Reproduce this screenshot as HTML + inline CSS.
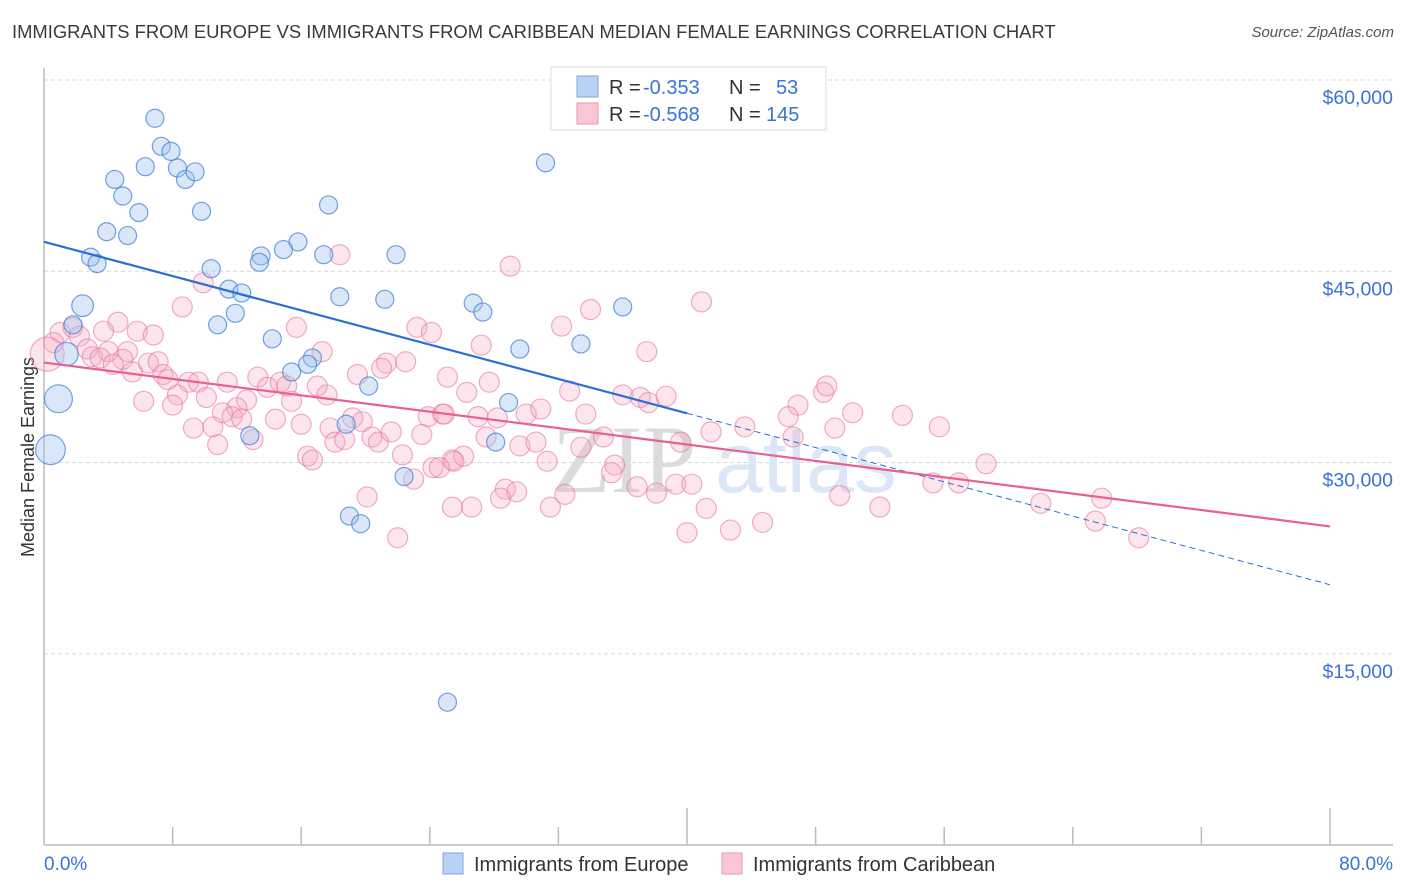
<!DOCTYPE html>
<html><head><meta charset="utf-8">
<style>
html,body{margin:0;padding:0;background:#fff;}
body{width:1406px;height:892px;overflow:hidden;position:relative;font-family:"Liberation Sans",sans-serif;}
#title{position:absolute;left:12px;top:21px;font-size:18.4px;color:#3a3a3a;}
#source{position:absolute;right:12px;top:24px;font-size:15px;color:#555;font-style:italic;}
svg{position:absolute;left:0;top:0;}
</style></head>
<body>
<div id="title">IMMIGRANTS FROM EUROPE VS IMMIGRANTS FROM CARIBBEAN MEDIAN FEMALE EARNINGS CORRELATION CHART</div>
<div id="source">Source: ZipAtlas.com</div>
<svg id="chart" width="1406" height="892"></svg>
<script>
const yTicks = [15000, 30000, 45000, 60000];
const yTickLabels = ["$15,000", "$30,000", "$45,000", "$60,000"];
const xTickValues = [0, 8, 16, 24, 32, 40, 48, 56, 64, 72, 80];
const europeX = [6.9,7.3,7.9,6.3,8.3,8.8,9.4,4.4,4.9,5.9,3.9,5.2,9.8,2.9,3.3,10.4,11.5,12.3,11.9,10.8,2.4,1.8,1.4,0.9,0.4,15.8,14.9,13.5,13.4,17.4,17.7,21.9,18.4,21.2,26.7,27.3,31.2,36.0,33.4,29.6,14.2,16.7,15.4,16.4,20.2,28.9,28.1,12.8,18.8,22.4,19.0,19.7,25.1];
const europeY = [57.0,54.8,54.4,53.2,53.1,52.2,52.8,52.2,50.9,49.6,48.1,47.8,49.7,46.1,45.6,45.2,43.6,43.3,41.7,40.8,42.3,40.8,38.5,35.0,31.0,47.3,46.7,46.2,45.7,46.3,50.2,46.3,43.0,42.8,42.5,41.8,53.5,42.2,39.3,38.9,39.7,38.2,37.1,37.7,36.0,34.7,31.6,32.1,33.0,28.9,25.8,25.2,11.2];
const europeSize = [1,1,1,1,1,1,1,1,1,1,1,1,1,1,1,1,1,1,1,1,1.2,1,1.3,1.55,1.65,1,1,1,1,1,1,1,1,1,1,1,1,1,1,1,1,1,1,1,1,1,1,1,1,1,1,1,1];
const caribX = [18.4,9.9,8.6,4.6,3.7,5.8,6.8,1.0,1.8,2.2,0.6,2.7,4.0,5.2,3.0,3.5,4.9,4.3,5.5,6.5,7.1,7.4,7.7,9.0,9.6,8.3,8.0,6.2,10.1,11.4,13.3,13.9,14.7,15.1,15.7,17.3,17.0,17.6,15.4,12.6,12.0,11.1,11.7,12.3,9.3,10.5,10.8,13.0,14.4,16.0,17.8,18.1,18.7,19.2,19.8,20.4,20.8,21.6,22.3,23.5,23.9,24.8,25.1,22.5,21.3,21.0,19.5,23.2,24.1,16.4,16.7,24.2,23.0,20.1,22.0,25.4,25.4,0.2,29.0,40.9,34.0,32.2,27.2,37.5,27.7,26.3,32.7,36.0,37.1,37.6,38.7,48.5,46.9,46.3,50.3,24.9,27.0,28.2,30.0,30.9,33.7,43.6,41.5,49.2,46.6,27.5,29.6,30.6,33.4,34.8,39.6,26.1,25.5,31.3,35.5,35.3,32.4,36.9,38.1,39.3,40.3,28.7,29.4,28.4,26.6,31.5,41.2,49.5,44.7,42.7,40.0,53.4,55.7,55.3,56.9,58.6,62.0,65.4,65.8,68.1,52.0,24.6,48.7];
const caribY = [46.3,44.1,42.2,41.0,40.3,40.3,40.0,40.2,40.6,39.9,39.4,38.9,38.7,38.7,38.3,38.2,38.1,37.7,37.1,37.8,37.9,36.9,36.5,36.3,36.3,35.3,34.5,34.8,35.1,36.3,36.7,35.9,36.3,36.0,40.6,38.7,36.0,35.3,34.8,34.9,34.3,33.9,33.6,33.4,32.7,32.8,31.4,31.8,33.4,33.0,32.7,31.6,31.8,33.5,33.2,32.0,31.6,32.4,30.6,32.2,33.6,33.8,36.7,37.9,37.8,37.4,36.9,40.6,40.2,30.5,30.2,29.6,28.7,27.3,24.1,26.5,30.2,38.5,45.4,42.6,42.0,40.7,39.2,38.7,36.3,35.5,35.6,35.3,35.1,34.7,35.2,35.5,34.5,33.6,33.9,33.8,33.6,33.5,33.8,34.2,33.8,32.8,32.4,32.7,32.0,32.0,31.3,31.6,31.2,32.0,31.6,30.5,30.1,30.1,29.8,29.2,27.5,28.1,27.6,28.3,28.3,27.9,27.7,27.2,26.5,26.5,26.4,27.4,25.3,24.7,24.5,33.7,32.8,28.4,28.4,29.9,26.8,25.4,27.2,24.1,26.5,29.6,36.0];

const NS = "http://www.w3.org/2000/svg";
const svg = document.getElementById('chart');
const X0 = 44, X1 = 1330, YB = 845, YT = 80;
function xScale(v){ return X0 + (v/80)*(X1-X0); }
function yScale(k){ return YB - (k*1000/60000)*(YB-YT); }
function yScaleD(d){ return YB - (d/60000)*(YB-YT); }
function mk(tag, attrs, parent){ const e=document.createElementNS(NS,tag); for(const k in attrs) e.setAttribute(k,attrs[k]); (parent||svg).appendChild(e); return e; }

yTicks.forEach((t,i)=>{
  const y=yScaleD(t);
  const g=mk('line',{x1:X0,x2:1393,y1:y,y2:y,stroke:'#d8d8d8','stroke-dasharray':'4,3','stroke-width':1});
  
  
  const tx=mk('text',{x:1393,y:y+24,'text-anchor':'end','font-size':19.5,fill:'#3b72d9','font-family':'Liberation Sans, sans-serif'});
  tx.textContent=yTickLabels[i];
  
  
});
const ax=mk('line',{x1:X0,x2:1393,y1:YB,y2:YB,stroke:'#bbb','stroke-width':1.5});


const ay=mk('line',{x1:X0,x2:X0,y1:68,y2:YB,stroke:'#bbb','stroke-width':1.5});


xTickValues.forEach(v=>{
  if(v===0) return;
  const x=xScale(v);
  const t=mk('line',{x1:x,x2:x,y1:(v===40||v===80)?808:827,y2:YB,stroke:'#bbb','stroke-width':1.5});
  
  
});
const xl0=mk('text',{x:X0,y:870,'font-size':19,fill:'#3b72d9'}); xl0.textContent='0.0%';


const xl1=mk('text',{x:1393,y:870,'font-size':19,fill:'#3b72d9','text-anchor':'end'}); xl1.textContent='80.0%';


const yt=mk('text',{x:0,y:0,'font-size':18,fill:'#333','text-anchor':'middle',transform:'translate(34,457) rotate(-90)'}); yt.textContent='Median Female Earnings';



const wm=mk('text',{x:552,y:492,'font-size':96,fill:'#dcdcdc','font-family':'Liberation Serif, serif'}); wm.textContent='ZIP';


const wm2=mk('text',{x:715,y:492,'font-size':86,fill:'#dbe6f6','font-family':'Liberation Sans, sans-serif'}); wm2.textContent='atlas';



caribX.forEach((v,i)=>{
  const c=mk('circle',{cx:xScale(v),cy:yScale(caribY[i]),r:i===77?17:10,fill:'rgba(246,170,195,0.3)',stroke:'rgba(232,120,155,0.6)','stroke-width':1.2});
  
  
});
europeX.forEach((v,i)=>{
  const c=mk('circle',{cx:xScale(v),cy:yScale(europeY[i]),r:9*europeSize[i],fill:'rgba(160,195,240,0.4)',stroke:'rgba(70,130,215,0.75)','stroke-width':1.2});
  
  
});

function fit(xs,ys){ const n=xs.length; let sx=0,sy=0,sxx=0,sxy=0; for(let i=0;i<n;i++){sx+=xs[i];sy+=ys[i];sxx+=xs[i]*xs[i];sxy+=xs[i]*ys[i];} const b=(n*sxy-sx*sy)/(n*sxx-sx*sx); return [ (sy-b*sx)/n, b ]; }
const fe=fit(europeX,europeY), fc=fit(caribX,caribY);
const bl=mk('line',{x1:xScale(0),y1:yScale(fe[0]),x2:xScale(40),y2:yScale(fe[0]+fe[1]*40),stroke:'#2a6fd6','stroke-width':2.2});


const bd=mk('line',{x1:xScale(40),y1:yScale(fe[0]+fe[1]*40),x2:xScale(80),y2:yScale(fe[0]+fe[1]*80),stroke:'#2a6fd6','stroke-width':1,'stroke-dasharray':'6,4'});


const pl=mk('line',{x1:xScale(0),y1:yScale(fc[0]),x2:xScale(80),y2:yScale(fc[0]+fc[1]*80),stroke:'#e8608f','stroke-width':2.2});



const lg=mk('g',{});


mk('rect',{x:551,y:67,width:275,height:63,fill:'#fff',stroke:'#ddd','stroke-width':1},lg);
mk('rect',{x:577,y:76,width:21,height:21,fill:'#b8d2f4',stroke:'#7ea6e0'},lg);
mk('rect',{x:577,y:103,width:21,height:21,fill:'#f9c6d6',stroke:'#e996b2'},lg);
const rows=[["-0.353","53",94],["-0.568","145",121]];
rows.forEach(r=>{
  const t=mk('text',{x:609,y:r[2],'font-size':20,fill:'#333'},lg);
  t.innerHTML='R = <tspan fill="#3b72d9" x="643">'+r[0]+'</tspan>';
  const n=mk('text',{x:729,y:r[2],'font-size':20,fill:'#333'},lg);
  n.innerHTML='N = <tspan fill="#3b72d9" x="'+(r[1].length===2?776:766)+'">'+r[1]+'</tspan>';
});

const b1=mk('rect',{x:443,y:853,width:20,height:21,fill:'#b8d2f4',stroke:'#7ea6e0'});


const b1t=mk('text',{x:474,y:871,'font-size':20,fill:'#333'}); b1t.textContent='Immigrants from Europe';


const b2=mk('rect',{x:722,y:853,width:20,height:21,fill:'#f9c6d6',stroke:'#e996b2'});


const b2t=mk('text',{x:753,y:871,'font-size':20,fill:'#333'}); b2t.textContent='Immigrants from Caribbean';


</script>
</body></html>
